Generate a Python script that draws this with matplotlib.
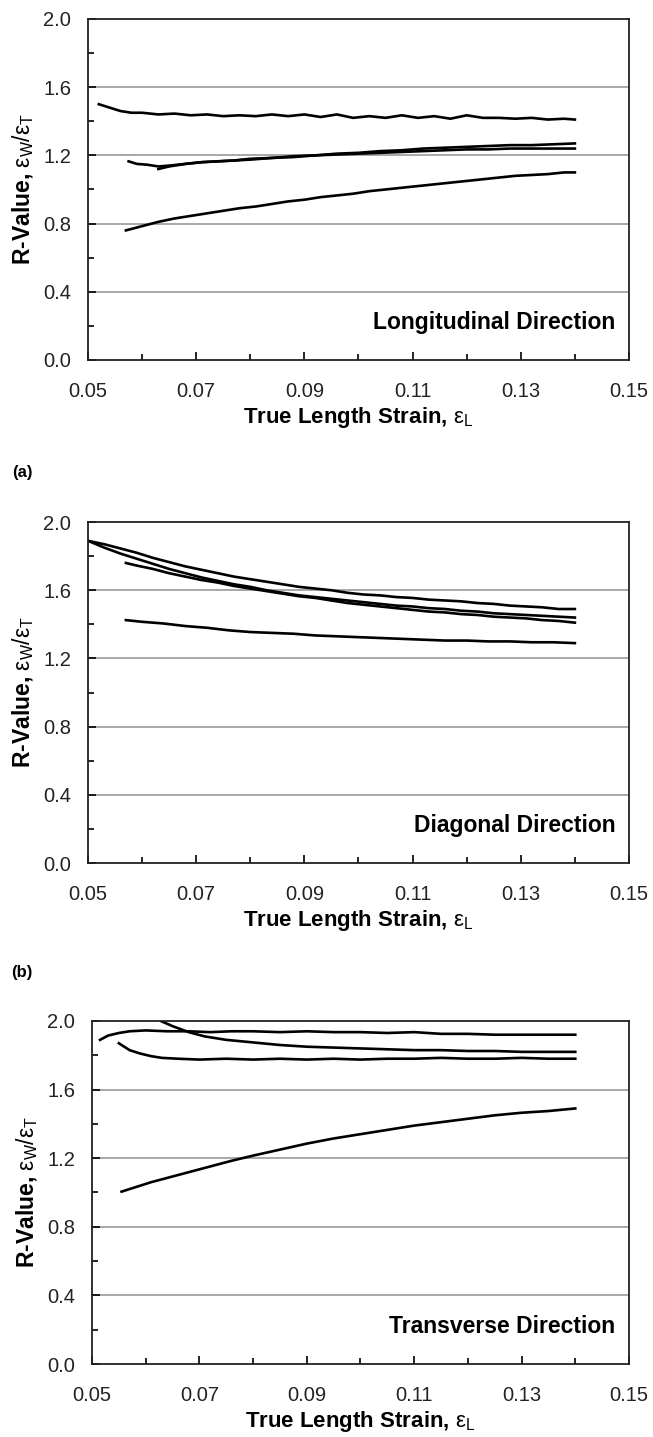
import matplotlib
matplotlib.use("Agg")
import matplotlib.pyplot as plt
from matplotlib.ticker import MultipleLocator

plt.rcParams['font.family'] = ['Liberation Sans', 'DejaVu Sans']
plt.rcParams['mathtext.fontset'] = 'custom'
plt.rcParams['mathtext.rm'] = 'Liberation Sans'
plt.rcParams['mathtext.it'] = 'Liberation Sans'

# --- Longitudinal direction ---
long_x1 = [0.052, 0.054, 0.056, 0.058, 0.060, 0.063, 0.066, 0.069, 0.072, 0.075, 0.078, 0.081, 0.084, 0.087, 0.090, 0.093,
           0.096, 0.099, 0.102, 0.105, 0.108, 0.111, 0.114, 0.117, 0.120, 0.123, 0.126, 0.129, 0.132, 0.135, 0.138, 0.140]
long_y1 = [1.50, 1.48, 1.46, 1.45, 1.45, 1.44, 1.445, 1.435, 1.44, 1.43, 1.435, 1.43, 1.44, 1.43, 1.44, 1.425,
           1.44, 1.42, 1.43, 1.42, 1.435, 1.42, 1.43, 1.415, 1.435, 1.42, 1.42, 1.415, 1.42, 1.41, 1.415, 1.41]
long_x2 = [0.0575, 0.059, 0.061, 0.063, 0.065, 0.068, 0.071, 0.074, 0.077, 0.080, 0.084, 0.088, 0.092, 0.096, 0.100,
           0.104, 0.108, 0.112, 0.116, 0.120, 0.124, 0.128, 0.132, 0.136, 0.140]
long_y2 = [1.165, 1.15, 1.145, 1.135, 1.14, 1.15, 1.16, 1.165, 1.17, 1.18, 1.185, 1.195, 1.20, 1.21, 1.215,
           1.225, 1.23, 1.24, 1.245, 1.25, 1.255, 1.26, 1.26, 1.265, 1.27]
long_x3 = [0.063, 0.065, 0.068, 0.071, 0.074, 0.077, 0.080, 0.084, 0.088, 0.092, 0.096, 0.100, 0.104, 0.108, 0.112,
           0.116, 0.120, 0.124, 0.128, 0.132, 0.136, 0.140]
long_y3 = [1.12, 1.135, 1.15, 1.16, 1.165, 1.17, 1.175, 1.185, 1.19, 1.20, 1.205, 1.21, 1.215, 1.22, 1.225,
           1.23, 1.235, 1.235, 1.24, 1.24, 1.24, 1.24]
long_x4 = [0.057, 0.060, 0.063, 0.066, 0.069, 0.072, 0.075, 0.078, 0.081, 0.084, 0.087, 0.090, 0.093, 0.096, 0.099,
           0.102, 0.105, 0.108, 0.111, 0.114, 0.117, 0.120, 0.123, 0.126, 0.129, 0.132, 0.135, 0.138, 0.140]
long_y4 = [0.76, 0.785, 0.81, 0.83, 0.845, 0.86, 0.875, 0.89, 0.90, 0.915, 0.93, 0.94, 0.955, 0.965, 0.975,
           0.99, 1.00, 1.01, 1.02, 1.03, 1.04, 1.05, 1.06, 1.07, 1.08, 1.085, 1.09, 1.10, 1.10]

# --- Diagonal direction ---
diag_x1 = [0.050, 0.053, 0.056, 0.059, 0.062, 0.065, 0.068, 0.071, 0.074, 0.077, 0.080, 0.083, 0.086, 0.089, 0.092,
           0.095, 0.098, 0.101, 0.104, 0.107, 0.110, 0.113, 0.116, 0.119, 0.122, 0.125, 0.128, 0.131, 0.134, 0.137, 0.140]
diag_y1 = [1.89, 1.87, 1.845, 1.82, 1.79, 1.765, 1.74, 1.72, 1.70, 1.68, 1.665, 1.65, 1.635, 1.62, 1.61,
           1.60, 1.585, 1.575, 1.57, 1.56, 1.555, 1.545, 1.54, 1.535, 1.525, 1.52, 1.51, 1.505, 1.50, 1.49, 1.49]
diag_x2 = diag_x1
diag_y2 = [1.89, 1.85, 1.815, 1.785, 1.755, 1.725, 1.70, 1.675, 1.655, 1.635, 1.62, 1.60, 1.585, 1.57, 1.56,
           1.55, 1.54, 1.53, 1.52, 1.51, 1.505, 1.495, 1.49, 1.48, 1.475, 1.465, 1.46, 1.455, 1.45, 1.445, 1.44]
diag_x3 = [0.057, 0.059, 0.062, 0.065, 0.068, 0.071, 0.074, 0.077, 0.080, 0.083, 0.086, 0.089, 0.092, 0.095, 0.098,
           0.101, 0.104, 0.107, 0.110, 0.113, 0.116, 0.119, 0.122, 0.125, 0.128, 0.131, 0.134, 0.137, 0.140]
diag_y3 = [1.76, 1.745, 1.725, 1.70, 1.68, 1.66, 1.645, 1.625, 1.61, 1.595, 1.58, 1.565, 1.555, 1.54, 1.525,
           1.515, 1.505, 1.495, 1.485, 1.475, 1.47, 1.46, 1.455, 1.445, 1.44, 1.435, 1.425, 1.42, 1.41]
diag_x4 = [0.057, 0.060, 0.064, 0.068, 0.072, 0.076, 0.080, 0.084, 0.088, 0.092, 0.096, 0.100, 0.104, 0.108, 0.112,
           0.116, 0.120, 0.124, 0.128, 0.132, 0.136, 0.140]
diag_y4 = [1.425, 1.415, 1.405, 1.39, 1.38, 1.365, 1.355, 1.35, 1.345, 1.335, 1.33, 1.325, 1.32, 1.315, 1.31,
           1.305, 1.305, 1.30, 1.30, 1.295, 1.295, 1.29]

# --- Transverse direction ---
tran_x1 = [0.0515, 0.053, 0.055, 0.057, 0.060, 0.064, 0.068, 0.072, 0.076, 0.080, 0.085, 0.090, 0.095, 0.100, 0.105,
           0.110, 0.115, 0.120, 0.125, 0.130, 0.135, 0.140]
tran_y1 = [1.89, 1.915, 1.93, 1.94, 1.945, 1.94, 1.94, 1.935, 1.94, 1.94, 1.935, 1.94, 1.935, 1.935, 1.93,
           1.935, 1.925, 1.925, 1.92, 1.92, 1.92, 1.92]
tran_x2 = [0.0628, 0.065, 0.068, 0.071, 0.075, 0.080, 0.085, 0.090, 0.095, 0.100, 0.105, 0.110, 0.115, 0.120, 0.125,
           0.130, 0.135, 0.140]
tran_y2 = [2.00, 1.97, 1.935, 1.91, 1.89, 1.875, 1.86, 1.85, 1.845, 1.84, 1.835, 1.83, 1.83, 1.825, 1.825,
           1.82, 1.82, 1.82]
tran_x3 = [0.055, 0.057, 0.059, 0.061, 0.063, 0.066, 0.070, 0.075, 0.080, 0.085, 0.090, 0.095, 0.100, 0.105, 0.110,
           0.115, 0.120, 0.125, 0.130, 0.135, 0.140]
tran_y3 = [1.87, 1.83, 1.81, 1.795, 1.785, 1.78, 1.775, 1.78, 1.775, 1.78, 1.775, 1.78, 1.775, 1.78, 1.78,
           1.785, 1.78, 1.78, 1.785, 1.78, 1.78]
tran_x4 = [0.0555, 0.058, 0.061, 0.064, 0.067, 0.070, 0.073, 0.076, 0.080, 0.085, 0.090, 0.095, 0.100, 0.105, 0.110,
           0.115, 0.120, 0.125, 0.130, 0.135, 0.140]
tran_y4 = [1.005, 1.03, 1.06, 1.085, 1.11, 1.135, 1.16, 1.185, 1.215, 1.25, 1.285, 1.315, 1.34, 1.365, 1.39,
           1.41, 1.43, 1.45, 1.465, 1.475, 1.49]

x_ticks = [0.05, 0.07, 0.09, 0.11, 0.13, 0.15]
x_tick_labels = ['0.05', '0.07', '0.09', '0.11', '0.13', '0.15']
y_ticks = [0.0, 0.4, 0.8, 1.2, 1.6, 2.0]
y_tick_labels = ['0.0', '0.4', '0.8', '1.2', '1.6', '2.0']

panels = [
    ([0.1348, 0.7495, 0.8284, 0.2373], 'Longitudinal Direction',
     [(long_x1, long_y1), (long_x2, long_y2), (long_x3, long_y3), (long_x4, long_y4)]),
    ([0.1348, 0.3994, 0.8284, 0.2373], 'Diagonal Direction',
     [(diag_x1, diag_y1), (diag_x2, diag_y2), (diag_x3, diag_y3), (diag_x4, diag_y4)]),
    ([0.1409, 0.0508, 0.8223, 0.2387], 'Transverse Direction',
     [(tran_x1, tran_y1), (tran_x2, tran_y2), (tran_x3, tran_y3), (tran_x4, tran_y4)]),
]

fig = plt.figure(figsize=(6.53, 14.37), dpi=100)

for rect, title, curves in panels:
    ax = fig.add_axes(rect)
    for xs, ys in curves:
        ax.plot(xs, ys, color='black', linewidth=1.9)
    ax.set_xlim(0.05, 0.15)
    ax.set_ylim(0.0, 2.0)
    ax.set_xticks(x_ticks)
    ax.set_xticklabels(x_tick_labels)
    ax.set_yticks(y_ticks)
    ax.set_yticklabels(y_tick_labels)
    ax.xaxis.set_minor_locator(MultipleLocator(0.01))
    ax.yaxis.set_minor_locator(MultipleLocator(0.2))
    ax.tick_params(which='major', direction='in', length=6, width=1.2, labelsize=14.5,
                   labelcolor='#222222', pad=16)
    ax.tick_params(which='minor', direction='in', length=4, width=1.2)
    ax.tick_params(axis='y', which='both', pad=12)
    for g in [0.4, 0.8, 1.2, 1.6]:
        ax.axhline(g, color='#9a9a9a', linewidth=1.2, zorder=0)
    for s in ax.spines.values():
        s.set_linewidth(1.3)
        s.set_color('#222222')
    ax.text(0.975, 0.11, title, transform=ax.transAxes, ha='right', va='center',
            fontsize=16.5, fontweight='bold')
    ax.set_xlabel(r'True Length Strain, $\varepsilon_\mathrm{L}$', fontsize=16, fontweight='bold', labelpad=3)
    ax.set_ylabel(r'R-Value, $\varepsilon_\mathrm{W}/\varepsilon_\mathrm{T}$', fontsize=16.5, fontweight='bold',
                  labelpad=5)

fig.text(22 / 653, 1 - 472 / 1437, '(a)', ha='center', va='center', fontsize=12, fontweight='bold')
fig.text(22 / 653, 1 - 972 / 1437, '(b)', ha='center', va='center', fontsize=12, fontweight='bold')

fig.savefig('out.png', dpi=100)
